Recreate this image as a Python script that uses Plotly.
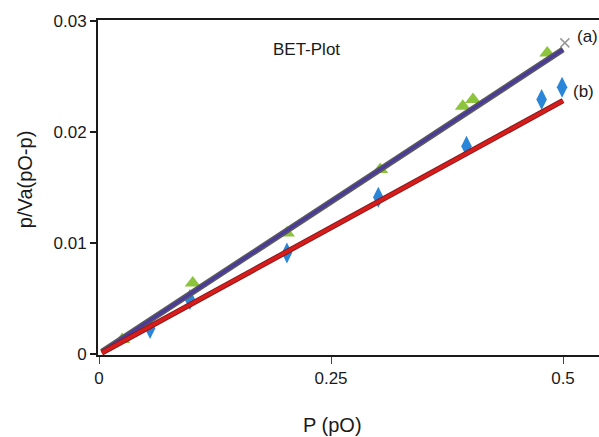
import plotly.graph_objects as go

# Fitted BET lines
fit_x = [0.003, 0.5]
fit_a = [0.0002, 0.0274]
fit_b = [0.0001, 0.0228]

# Sample (a) data points (green triangles)
pts_a_x = [0.025, 0.101, 0.2025, 0.303, 0.392, 0.403, 0.483]
pts_a_y = [0.0013, 0.0064, 0.0109, 0.0166, 0.0223, 0.0229, 0.0271]

# Sample (b) data points (blue)
pts_b_x = [0.055, 0.098, 0.2025, 0.301, 0.396, 0.477, 0.499]
pts_b_y = [0.0023, 0.0049, 0.0091, 0.0141, 0.0187, 0.0229, 0.0240]

# end marker of (a)
end_a_x = [0.502]
end_a_y = [0.0280]

x_tickvals = [0, 0.25, 0.5]
x_ticktext = ["0", "0.25", "0.5"]
y_tickvals = [0, 0.01, 0.02, 0.03]
y_ticktext = ["0", "0.01", "0.02", "0.03"]

fig = go.Figure()

fig.add_trace(go.Scatter(x=pts_a_x, y=pts_a_y, mode="markers",
                         marker=dict(symbol="triangle-up", size=14, color="#8cc43c",
                                     line=dict(width=0)), showlegend=False))
fig.add_trace(go.Scatter(x=pts_b_x, y=pts_b_y, mode="markers",
                         marker=dict(symbol="diamond-tall", size=15, color="#2a86d8",
                                     line=dict(width=0)), showlegend=False))
fig.add_trace(go.Scatter(x=end_a_x, y=end_a_y, mode="markers",
                         marker=dict(symbol="x-thin", size=9, color="#999999",
                                     line=dict(width=1.5, color="#999999")), showlegend=False))

# line (a): gray fuzzy edge + purple core
fig.add_trace(go.Scatter(x=fit_x, y=fit_a, mode="lines",
                         line=dict(color="#5a5a5a", width=6), showlegend=False))
fig.add_trace(go.Scatter(x=fit_x, y=fit_a, mode="lines",
                         line=dict(color="#4a3a9e", width=3), showlegend=False))
# line (b): dark red edge + red core
fig.add_trace(go.Scatter(x=fit_x, y=fit_b, mode="lines",
                         line=dict(color="#8a1a1a", width=5.5), showlegend=False))
fig.add_trace(go.Scatter(x=fit_x, y=fit_b, mode="lines",
                         line=dict(color="#d81c1c", width=3.5), showlegend=False))

font_family = "Liberation Sans, Arial, sans-serif"

fig.update_layout(
    width=599, height=437,
    margin=dict(l=98, r=0, t=20, b=82),
    paper_bgcolor="white", plot_bgcolor="white",
    font=dict(family=font_family, size=17, color="#1a1a1a"),
    xaxis=dict(range=[-0.0011, 0.5388], tickvals=x_tickvals, ticktext=x_ticktext,
               showgrid=False, zeroline=False, showline=True, linecolor="#1a1a1a",
               linewidth=2, mirror=True, ticks="outside", ticklen=7, tickwidth=1,
               tickcolor="#444444", tickfont=dict(size=17)),
    yaxis=dict(range=[-0.00009, 0.03006], tickvals=y_tickvals, ticktext=y_ticktext,
               showgrid=False, zeroline=False, showline=True, linecolor="#1a1a1a",
               linewidth=2, ticks="outside", ticklen=6, tickwidth=2,
               tickcolor="#1a1a1a", tickfont=dict(size=17)),
    annotations=[
        dict(text="P (pO)", xref="paper", yref="paper", x=0.469, y=-0.209,
             showarrow=False, font=dict(size=20), xanchor="center", yanchor="middle"),
        dict(text="p/Va(pO-p)", xref="paper", yref="paper", x=-0.1457, y=0.522,
             showarrow=False, textangle=-90, font=dict(size=20),
             xanchor="center", yanchor="middle"),
        dict(text="BET-Plot", xref="x", yref="y", x=0.224, y=0.0274, showarrow=False,
             font=dict(size=17), xanchor="center", yanchor="middle"),
        dict(text="(a)", xref="x", yref="y", x=0.526, y=0.02856, showarrow=False,
             font=dict(size=17), xanchor="center", yanchor="middle"),
        dict(text="(b)", xref="x", yref="y", x=0.5216, y=0.0236, showarrow=False,
             font=dict(size=17), xanchor="center", yanchor="middle"),
    ],
)

fig.write_html("out.html", config={"displayModeBar": False},
               post_script="document.body.style.margin='0';document.body.style.overflow='hidden';")
